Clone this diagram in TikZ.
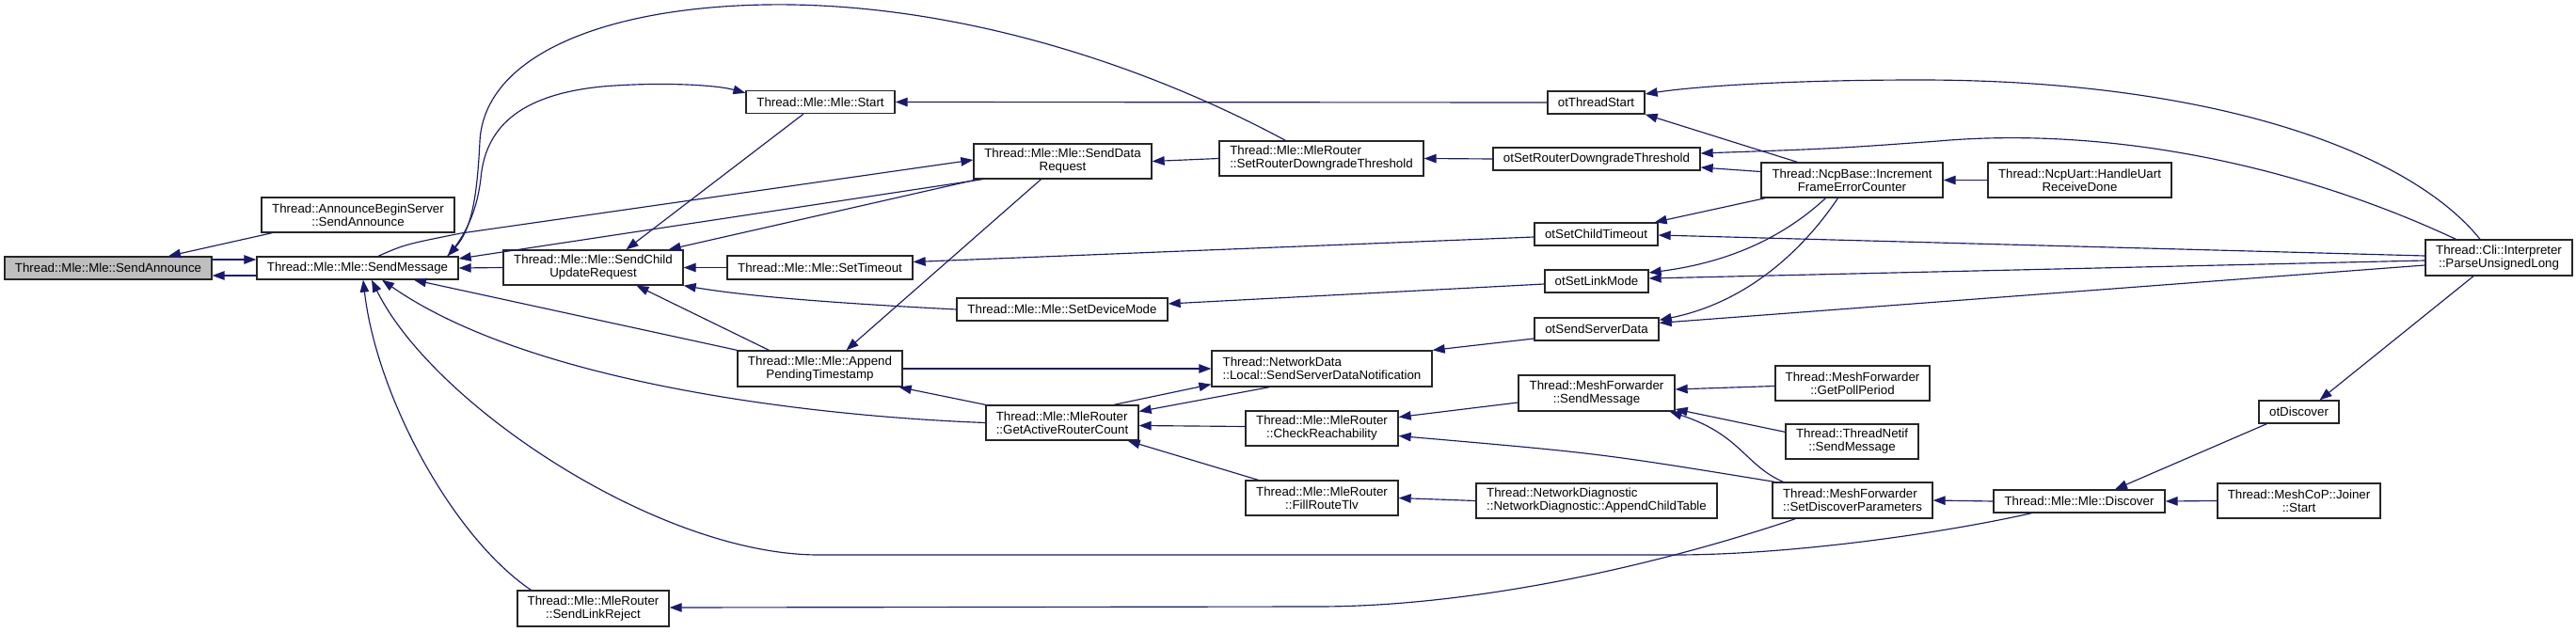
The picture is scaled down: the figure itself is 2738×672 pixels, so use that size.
\documentclass[tikz,border=0pt]{standalone}
\usepackage{fontspec}
\setmainfont{Liberation Sans}
\usetikzlibrary{arrows.meta,calc}
\definecolor{mblue}{HTML}{191970}
\definecolor{boxgray}{HTML}{BFBFBF}
\newcommand\gfont{\fontsize{13.35pt}{14pt}\selectfont}
\begin{document}
\begin{tikzpicture}[x=1bp, y=-1bp,
  box/.style={draw=black!85, line width=1.3bp, fill=white, inner sep=0pt, align=center, font=\gfont},
  boxl/.style={box, align=left},
  e/.style={draw=mblue, line width=1.15bp, -{Triangle[length=13bp,width=9.5bp]}}]
\useasboundingbox (0,0) rectangle (2738,672);
% nodes
\node[box, fill=boxgray, minimum width=220bp, minimum height=24bp] (sa) at (115,285) {Thread::Mle::Mle::SendAnnounce};
\node[box, minimum width=205bp, minimum height=37bp] (abs) at (380.5,228.5) {Thread::AnnounceBeginServer\\::SendAnnounce};
\node[box, minimum width=214bp, minimum height=24bp] (sm) at (380,285) {Thread::Mle::Mle::SendMessage};
\node[box, minimum width=191bp, minimum height=37bp] (scu) at (630.5,284.5) {Thread::Mle::Mle::SendChild\\UpdateRequest};
\node[box, minimum width=161bp, minimum height=38bp] (slr) at (630.5,647) {Thread::Mle::MleRouter\\::SendLinkReject};
\node[box, minimum width=158bp, minimum height=24bp] (start) at (872,108.5) {Thread::Mle::Mle::Start};
\node[box, minimum width=197bp, minimum height=25bp] (sto) at (871.5,284.5) {Thread::Mle::Mle::SetTimeout};
\node[box, minimum width=175bp, minimum height=38bp] (apt) at (871.5,392) {Thread::Mle::Mle::Append\\PendingTimestamp};
\node[box, minimum width=189bp, minimum height=37bp] (sdr) at (1129.5,171.5) {Thread::Mle::Mle::SendData\\Request};
\node[box, minimum width=224bp, minimum height=24bp] (sdm) at (1129,329) {Thread::Mle::Mle::SetDeviceMode};
\node[boxl, minimum width=162bp, minimum height=37bp] (garc) at (1129,449.5) {Thread::Mle::MleRouter\\::GetActiveRouterCount};
\node[boxl, minimum width=217bp, minimum height=37bp] (mrsrdt) at (1404.5,168.5) {Thread::Mle::MleRouter\\::SetRouterDowngradeThreshold};
\node[boxl, minimum width=234bp, minimum height=38bp] (nd) at (1405,392) {Thread::NetworkData\\::Local::SendServerDataNotification};
\node[box, minimum width=162bp, minimum height=37bp] (cr) at (1405,455.5) {Thread::Mle::MleRouter\\::CheckReachability};
\node[box, minimum width=162bp, minimum height=37bp] (frt) at (1405,529.5) {Thread::Mle::MleRouter\\::FillRouteTlv};
\node[box, minimum width=103bp, minimum height=24bp] (ots) at (1696.5,109) {otThreadStart};
\node[box, minimum width=220bp, minimum height=24bp] (osrdt) at (1697,169) {otSetRouterDowngradeThreshold};
\node[box, minimum width=131bp, minimum height=24bp] (osct) at (1696.5,249) {otSetChildTimeout};
\node[box, minimum width=110bp, minimum height=24bp] (oslm) at (1697,299) {otSetLinkMode};
\node[box, minimum width=132bp, minimum height=24bp] (ossd) at (1697,350) {otSendServerData};
\node[box, minimum width=166bp, minimum height=38bp] (mfsm) at (1697,418) {Thread::MeshForwarder\\::SendMessage};
\node[boxl, minimum width=256bp, minimum height=37bp] (ndiag) at (1697,532.5) {Thread::NetworkDiagnostic\\::NetworkDiagnostic::AppendChildTable};
\node[box, minimum width=193bp, minimum height=37bp] (ncp) at (1968.5,191.5) {Thread::NcpBase::Increment\\FrameErrorCounter};
\node[box, minimum width=164bp, minimum height=37bp] (gpp) at (1969,407.5) {Thread::MeshForwarder\\::GetPollPeriod};
\node[box, minimum width=141bp, minimum height=37bp] (tn) at (1968.5,469.5) {Thread::ThreadNetif\\::SendMessage};
\node[boxl, minimum width=170bp, minimum height=38bp] (sdp) at (1969,532) {Thread::MeshForwarder\\::SetDiscoverParameters};
\node[box, minimum width=195bp, minimum height=37bp] (uart) at (2210.5,191.5) {Thread::NcpUart::HandleUart\\ReceiveDone};
\node[box, minimum width=182bp, minimum height=24bp] (disc) at (2210,533) {Thread::Mle::Mle::Discover};
\node[box, minimum width=85bp, minimum height=24bp] (otd) at (2443.5,438) {otDiscover};
\node[box, minimum width=173bp, minimum height=37bp] (join) at (2443.5,532.5) {Thread::MeshCoP::Joiner\\::Start};
\node[box, minimum width=156bp, minimum height=38bp] (pul) at (2656,274) {Thread::Cli::Interpreter\\::ParseUnsignedLong};
% edges
\draw[e] ($(abs.south west)+(12,0)$) -- ($(sa.north)+(64,0)$);
\draw[e] ($(sa.east)+(0,-9)$) -- ($(sm.west)+(0,-9)$);
\draw[e] ($(sm.west)+(0,8)$) -- ($(sa.east)+(0,8)$);
\draw[e] (scu.west) -- (sm.east);
\draw[e] ($(mrsrdt.north west)+(71,0)$) .. controls (1200,60) and (1000,2) .. (814,5) .. controls (640,8) and (515,60) .. (510,150) .. controls (507,215) and (500,245) .. ($(sm.north east)+(-12,0)$);
\draw[e] ($(sm.north east)+(-12,0)$) .. controls (500,245) and (508,215) .. (511,190) .. controls (516,130) and (560,100) .. (640,92) .. controls (700,87) and (760,90) .. ($(start.north west)+(0,3)$);
\draw[e] ($(sm.north)+(22,0)$) .. controls (430,260) .. (490,248) -- ($(sdr.west)+(0,-1.5)$);
\draw[e] ($(sdr.south west)+(10,0)$) -- ($(sm.east)+(0,-10)$);
\draw[e] ($(sdr.south west)+(5,0)$) -- ($(scu.north east)+(-16,0)$);
\draw[e] ($(start.south)+(-18,0)$) -- ($(scu.north)+(35,0)$);
\draw[e] (sto.west) -- (scu.east);
\draw[e] (sdm.west) .. controls (900,323) and (800,316) .. (scu.south east);
\draw[e] ($(apt.north west)+(34,0)$) -- ($(scu.south)+(46,0)$);
\draw[e] (apt.north west) -- ($(sm.south)+(60,0)$);
\draw[e] (garc.west) .. controls (850,442) and (560,405) .. ($(sm.south)+(26,0)$);
\draw[e] ($(slr.north west)+(15,0)$) .. controls (480,570) and (400,420) .. ($(sm.south)+(6,0)$);
\draw[e] ($(disc.south west)+(41,0)$) .. controls (2060,568) and (1900,590) .. (1780,590) -- (870,590) .. controls (700,590) and (460,430) .. ($(sm.south)+(15,0)$);
\draw[e] ($(sdr.south)+(-23,0)$) -- ($(apt.north)+(28,0)$);
\draw[e] (apt.east) -- (nd.west);
\draw[e] (garc.north west) -- ($(apt.south east)+(-4,0)$);
\draw[e] ($(garc.north)+(55,0)$) -- ($(nd.south west)+(0,-3)$);
\draw[e] ($(nd.south west)+(62,0)$) -- ($(garc.east)+(0,-12)$);
\draw[e] ($(cr.west)+(0,-2)$) -- ($(garc.east)+(0,3)$);
\draw[e] ($(frt.north west)+(14,0)$) -- ($(garc.south east)+(-12,0)$);
\draw[e] ($(ossd.west)+(0,10)$) -- (nd.north east);
\draw[e] ($(mfsm.west)+(0,10)$) -- ($(cr.east)+(0,-12)$);
\draw[e] ($(sdp.north west)+(3,0)$) .. controls (1700,482) .. ($(cr.east)+(0,8)$);
\draw[e] (ndiag.west) -- (frt.east);
\draw[e] ($(gpp.west)+(0,3)$) -- ($(mfsm.east)+(0,-4)$);
\draw[e] ($(tn.north west)+(0,9)$) -- ($(mfsm.east)+(0,17)$);
\draw[e] ($(sdp.north west)+(12,0)$) .. controls (1855,495) and (1850,462) .. ($(mfsm.south east)+(-6,0)$);
\draw[e] ($(sdp.south west)+(25,0)$) .. controls (1750,605) and (1560,645) .. (1400,645) -- ($(slr.east)+(0,-1)$);
\draw[e] (disc.west) -- (sdp.east);
\draw[e] ($(otd.south west)+(9,0)$) -- ($(disc.north)+(38,0)$);
\draw[e] (join.west) -- (disc.east);
\draw[e] ($(pul.south)+(-27,0)$) -- ($(otd.north)+(22,0)$);
\draw[e] (ots.west) -- (start.east);
\draw[e] (mrsrdt.west) -- (sdr.east);
\draw[e] (osrdt.west) -- (mrsrdt.east);
\draw[e] ($(pul.north)+(-20,0)$) .. controls (2560,160) and (2350,85) .. (2040,85) .. controls (1900,85) and (1800,92) .. ($(ots.east)+(0,-9)$);
\draw[e] ($(ncp.north west)+(39,0)$) -- (ots.south east);
\draw[e] ($(pul.north west)+(33,0)$) .. controls (2430,170) and (2230,135) .. (2060,150) .. controls (1950,158) .. ($(osrdt.east)+(0,-6)$);
\draw[e] ($(ncp.west)+(0,-9)$) -- ($(osrdt.east)+(0,9)$);
\draw[e] ($(osct.west)+(0,3)$) -- ($(sto.east)+(0,-6)$);
\draw[e] ($(oslm.west)+(0,3)$) -- ($(sdm.east)+(0,-6)$);
\draw[e] ($(ncp.south west)+(5,0)$) -- ($(osct.north east)+(-4,0)$);
\draw[e] ($(pul.west)+(0,-2)$) -- ($(osct.east)+(0,1)$);
\draw[e] ($(ncp.south)+(-28,0)$) .. controls (1900,248) and (1845,278) .. ($(oslm.east)+(0,-9)$);
\draw[e] ($(pul.west)+(0,3)$) -- ($(oslm.east)+(0,-3)$);
\draw[e] ($(ncp.south)+(-15,0)$) .. controls (1915,268) and (1855,322) .. ($(ossd.north east)+(0,3)$);
\draw[e] ($(pul.west)+(0,8)$) -- ($(ossd.north east)+(0,6)$);
\draw[e] (uart.west) -- (ncp.east);
\end{tikzpicture}
\end{document}
